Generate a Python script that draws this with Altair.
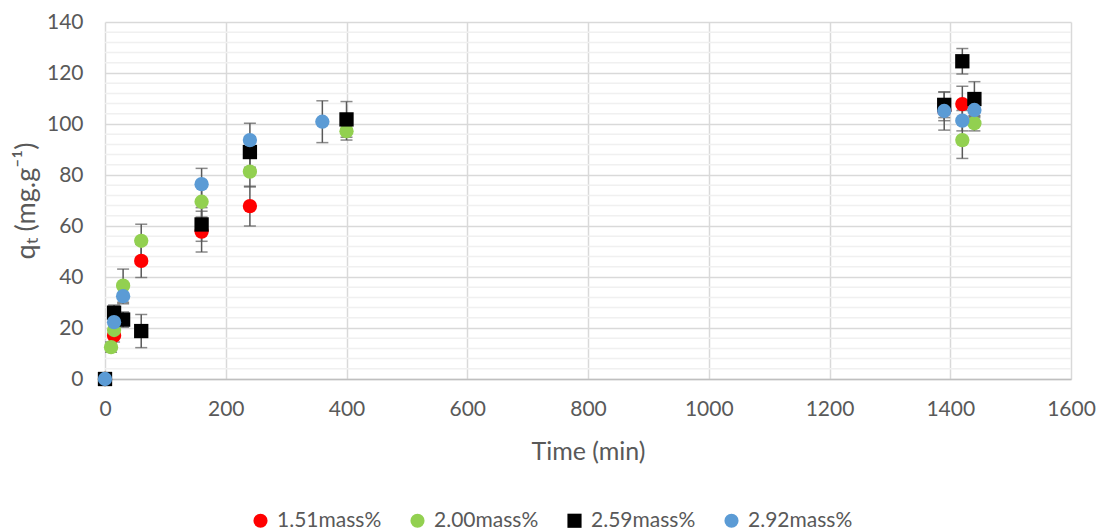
import altair as alt
import pandas as pd

# Adsorption kinetics: q_t versus contact time for four loadings
series_names = ["1.51mass%", "2.00mass%", "2.59mass%", "2.92mass%"]
series_colors = ["#FF0000", "#92D050", "#000000", "#5B9BD5"]
series_shapes = ["circle", "circle", "square", "circle"]

time_151 = [0, 15, 60, 160, 240, 1390, 1420]
q_151 = [0, 17.0, 46.3, 57.8, 67.8, 105.3, 107.8]
err_151 = [0, 2.5, 6.5, 8.0, 7.8, 4.0, 7.0]

time_200 = [0, 10, 15, 30, 60, 160, 240, 400, 1420, 1440]
q_200 = [0, 12.5, 19.2, 36.6, 54.2, 69.5, 81.3, 97.2, 93.7, 100.3]
err_200 = [0, 2.0, 3.0, 6.5, 6.5, 6.0, 6.0, 3.5, 7.2, 3.0]

time_259 = [0, 15, 30, 60, 160, 240, 400, 1390, 1420, 1440]
q_259 = [0, 26.0, 23.3, 18.8, 60.6, 89.0, 101.8, 107.5, 124.6, 109.8]
err_259 = [0, 3.0, 3.0, 6.5, 6.6, 6.0, 7.0, 5.0, 5.0, 6.8]

time_292 = [0, 15, 30, 160, 240, 360, 1390, 1420, 1440]
q_292 = [0, 22.3, 32.5, 76.4, 93.7, 100.9, 105.1, 101.3, 105.5]
err_292 = [0, 2.0, 3.0, 6.2, 6.6, 8.2, 7.5, 4.0, 3.0]

# Light minor grid lines between the major ticks of the q axis
minor_grid = [4, 8, 12, 16, 24, 28, 32, 36, 44, 48, 52, 56, 64, 68, 72, 76,
              84, 88, 92, 96, 104, 108, 112, 116, 124, 128, 132, 136]

rows = []
for name, ts, qs, es in [
    (series_names[0], time_151, q_151, err_151),
    (series_names[1], time_200, q_200, err_200),
    (series_names[2], time_259, q_259, err_259),
    (series_names[3], time_292, q_292, err_292),
]:
    for t, q, e in zip(ts, qs, es):
        rows.append({"series": name, "time": t, "q": q, "lo": q - e, "hi": q + e, "err": e})
df = pd.DataFrame(rows)
df["order"] = df["series"].map({n: i for i, n in enumerate(series_names)})

FONT = "Lato"
GRAY = "#595959"

x_scale = alt.Scale(domain=[0, 1600], nice=False, zero=True)
y_scale = alt.Scale(domain=[0, 140], nice=False)

x_axis = alt.Axis(
    values=[0, 200, 400, 600, 800, 1000, 1200, 1400, 1600],
    format="d",
    title="Time (min)",
    labelFontSize=21, labelColor=GRAY, labelFont=FONT, labelPadding=19,
    labelFlush=False,
    titleFontSize=25, titleColor=GRAY, titleFont=FONT, titleFontWeight="normal",
    titlePadding=20,
    ticks=False, tickSize=0,
    domainColor="#BFBFBF", domainWidth=1.5,
    grid=True, gridColor="#D9D9D9", gridWidth=1.5,
)
y_axis = alt.Axis(
    values=[0, 20, 40, 60, 80, 100, 120, 140],
    title="qₜ (mg.g⁻¹)",
    labelFontSize=21, labelColor=GRAY, labelFont=FONT, labelPadding=22,
    labelFlush=False,
    titleFontSize=27, titleColor=GRAY, titleFont=FONT, titleFontWeight="normal",
    titlePadding=6,
    ticks=False, tickSize=0, domain=False,
    grid=True, gridColor="#D9D9D9", gridWidth=1.5,
)

minor = alt.Chart(pd.DataFrame({"v": minor_grid})).mark_rule(
    color="#F0F0F0", strokeWidth=1.5
).encode(y=alt.Y("v:Q", scale=y_scale, axis=y_axis))

bars_df = df[df["err"] > 0]
base_err = alt.Chart(bars_df)
stems = base_err.mark_rule(color=GRAY, strokeWidth=1.5).encode(
    x=alt.X("time:Q", scale=x_scale, axis=x_axis),
    y=alt.Y("lo:Q", scale=y_scale),
    y2="hi:Q",
)
caps_lo = base_err.mark_tick(color=GRAY, thickness=1.5, size=12, orient="horizontal").encode(
    x=alt.X("time:Q", scale=x_scale), y=alt.Y("lo:Q", scale=y_scale)
)
caps_hi = base_err.mark_tick(color=GRAY, thickness=1.5, size=12, orient="horizontal").encode(
    x=alt.X("time:Q", scale=x_scale), y=alt.Y("hi:Q", scale=y_scale)
)

legend_cfg = dict(
    title=None, orient="none", direction="horizontal",
    legendX=145, legendY=488, columns=4, columnPadding=25,
    labelFontSize=21, labelColor=GRAY, labelFont=FONT,
    symbolSize=200, symbolStrokeWidth=0, labelOffset=6,
)

points = alt.Chart(df).mark_point(filled=True, size=205, opacity=1, strokeWidth=0).encode(
    x=alt.X("time:Q", scale=x_scale),
    y=alt.Y("q:Q", scale=y_scale),
    color=alt.Color(
        "series:N",
        scale=alt.Scale(domain=series_names, range=series_colors),
        legend=alt.Legend(**legend_cfg),
    ),
    shape=alt.Shape(
        "series:N",
        scale=alt.Scale(domain=series_names, range=series_shapes),
        legend=alt.Legend(**legend_cfg),
    ),
    order=alt.Order("order:Q"),
)

chart = alt.layer(minor, stems, caps_lo, caps_hi, points).properties(
    width=966,
    height=357,
    autosize=alt.AutoSizeParams(type="none"),
    padding={"left": 105, "top": 22, "right": 28, "bottom": 152},
    background="white",
).configure_view(stroke=None)

chart.save("out.html", embed_options={"renderer": "svg", "actions": False})
